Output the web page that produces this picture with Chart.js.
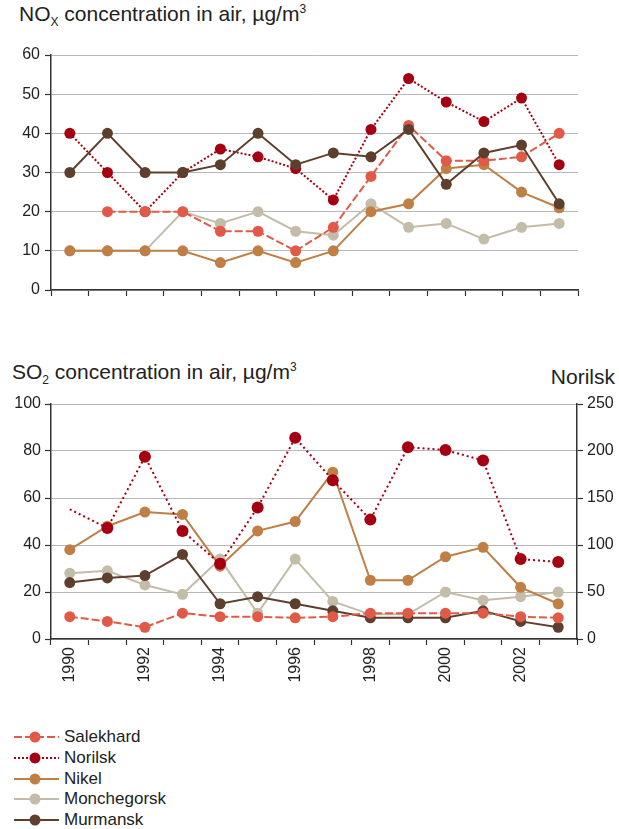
<!DOCTYPE html>
<html>
<head>
<meta charset="utf-8">
<script src="https://cdn.jsdelivr.net/npm/chart.js@4/dist/chart.umd.min.js"></script>
<style>
  body { margin: 0; background: #fff; font-family: "Liberation Sans", Arial, sans-serif; color: #222; }
  #wrap { position: relative; width: 619px; height: 829px; }
  .title { position: absolute; font-size: 21px; white-space: nowrap; }
  .title sub, .title sup { font-size: 12px; }
  #c1 { position: absolute; left: 0; top: 40px; }
  #c2 { position: absolute; left: 0; top: 390px; }
  #legend { position: absolute; left: 14px; top: 727px; font-size: 17px; }
  #legend .row { display: flex; align-items: center; height: 20.7px; }
  #legend svg { margin-right: 5px; }
</style>
</head>
<body>
<div id="wrap">
  <div class="title" style="left:19px; top:2px;">NO<sub>X</sub> concentration in air, µg/m<sup>3</sup></div>
  <canvas id="c1" width="619" height="270"></canvas>
  <div class="title" style="left:12px; top:360px;">SO<sub>2</sub> concentration in air, µg/m<sup>3</sup></div>
  <div class="title" style="right:4px; top:365px;">Norilsk</div>
  <canvas id="c2" width="619" height="320"></canvas>
  <div id="legend"></div>
</div>
<script>
const years = ['1990','1991','1992','1993','1994','1995','1996','1997','1998','1999','2000','2001','2002','2003'];

// NOx, µg/m3
const noxSalekhard   = [null, 20, 20, 20, 15, 15, 10, 16, 29, 42, 33, 33, 34, 40];
const noxNorilsk     = [40, 30, 20, 30, 36, 34, 31, 23, 41, 54, 48, 43, 49, 32];
const noxNikel       = [10, 10, 10, 10, 7, 10, 7, 10, 20, 22, 31, 32, 25, 21];
const noxMonchegorsk = [10, 10, 10, 20, 17, 20, 15, 14, 22, 16, 17, 13, 16, 17];
const noxMurmansk    = [30, 40, 30, 30, 32, 40, 32, 35, 34, 41, 27, 35, 37, 22];

// SO2, µg/m3 (Norilsk on right axis)
const so2Salekhard   = [9.5, 7.5, 5, 11, 9.5, 9.5, 9, 9.5, 11, 11, 11, 11, 9.5, 9];
const so2Norilsk     = [138, 118, 194, 115, 80, 140, 214, 169, 127, 204, 201, 190, 85, 82];
const so2Nikel       = [38, 48, 54, 53, 31, 46, 50, 71, 25, 25, 35, 39, 22, 15];
const so2Monchegorsk = [28, 29, 23, 19, 34, 11, 34, 16, 10.5, 10.5, 20, 16.5, 18, 20];
const so2Murmansk    = [24, 26, 27, 36, 15, 18, 15, 12, 9, 9, 9, 12, 7.5, 5];

const noxTicks = [0, 10, 20, 30, 40, 50, 60];
const so2Ticks = [0, 20, 40, 60, 80, 100];
const norilskTicks = [0, 50, 100, 150, 200, 250];

const names = ['Salekhard', 'Norilsk', 'Nikel', 'Monchegorsk', 'Murmansk'];
const colors = ['#e05a47', '#a50011', '#bf7f45', '#c3bca9', '#5e3f2d'];
const dashes = [[8, 3], [2, 2], [], [], []];

Chart.defaults.font.family = '"Liberation Sans", Arial, sans-serif';
Chart.defaults.font.size = 16;
Chart.defaults.color = '#222';

function ds(i, data, extra) {
  return Object.assign({
    label: names[i],
    data: data,
    borderColor: colors[i],
    backgroundColor: colors[i],
    borderWidth: 2,
    borderDash: dashes[i],
    pointRadius: 5.5,
    pointHoverRadius: 5.5,
    pointBorderWidth: 0,
    tension: 0,
    spanGaps: false
  }, extra || {});
}

const axisColor = '#333';
const gridColor = '#b8b8b8';

// top chart
new Chart(document.getElementById('c1'), {
  type: 'line',
  data: {
    labels: years,
    datasets: [
      ds(4, noxMurmansk, { order: 0 }),
      ds(0, noxSalekhard, { order: 1 }),
      ds(1, noxNorilsk, { order: 2 }),
      ds(2, noxNikel, { order: 3 }),
      ds(3, noxMonchegorsk, { order: 4 })
    ]
  },
  options: {
    responsive: false,
    animation: false,
    layout: { padding: { top: 15, right: 41, left: 0, bottom: 0 } },
    plugins: { legend: { display: false }, tooltip: { enabled: false } },
    scales: {
      x: {
        offset: true,
        grid: { offset: true, drawOnChartArea: false, tickLength: 6, tickColor: axisColor, tickWidth: 1.2 },
        border: { color: axisColor, width: 1.5 },
        ticks: { display: false },
        afterFit: s => { s.height = 20; }
      },
      y: {
        min: 0, max: 60,
        afterBuildTicks: s => { s.ticks = noxTicks.map(v => ({ value: v })); },
        grid: { color: gridColor, tickLength: 6, tickColor: axisColor, tickWidth: 1.2 },
        border: { color: axisColor, width: 1.5 },
        ticks: { padding: 5 },
        afterFit: s => { s.width = 51; }
      }
    }
  }
});

// bottom chart
new Chart(document.getElementById('c2'), {
  type: 'line',
  data: {
    labels: years,
    datasets: [
      ds(0, so2Salekhard, { yAxisID: 'y' }),
      ds(1, so2Norilsk, { yAxisID: 'y2', borderDash: [2, 3], pointRadius: c => c.dataIndex === 0 ? 0 : 6 }),
      ds(2, so2Nikel, { yAxisID: 'y' }),
      ds(4, so2Murmansk, { yAxisID: 'y' }),
      ds(3, so2Monchegorsk, { yAxisID: 'y' })
    ]
  },
  options: {
    responsive: false,
    animation: false,
    layout: { padding: { top: 14, right: 0, left: 0, bottom: 0 } },
    plugins: { legend: { display: false }, tooltip: { enabled: false } },
    scales: {
      x: {
        offset: true,
        grid: { offset: true, drawOnChartArea: false, tickLength: 6, tickColor: axisColor, tickWidth: 1.2 },
        border: { color: axisColor, width: 1.5 },
        ticks: {
          autoSkip: false, minRotation: 90, maxRotation: 90, padding: 2,
          callback: (v, i) => i % 2 === 0 ? years[i] : ''
        },
        afterFit: s => { s.height = 71; }
      },
      y: {
        position: 'left',
        min: 0, max: 100,
        afterBuildTicks: s => { s.ticks = so2Ticks.map(v => ({ value: v })); },
        grid: { color: gridColor, tickLength: 6, tickColor: axisColor, tickWidth: 1.2 },
        border: { color: axisColor, width: 1.5 },
        ticks: { padding: 4 },
        afterFit: s => { s.width = 51; }
      },
      y2: {
        position: 'right',
        min: 0, max: 250,
        afterBuildTicks: s => { s.ticks = norilskTicks.map(v => ({ value: v })); },
        grid: { drawOnChartArea: false, tickLength: 6, tickColor: axisColor, tickWidth: 1.2 },
        border: { color: axisColor, width: 1.5 },
        ticks: { padding: 4 },
        afterFit: s => { s.width = 42; }
      }
    }
  }
});

// legend
const leg = document.getElementById('legend');
names.forEach((n, i) => {
  const row = document.createElement('div');
  row.className = 'row';
  const d = dashes[i].length ? dashes[i].join(',') : 'none';
  row.innerHTML = '<svg width="45" height="14"><line x1="0" y1="7" x2="45" y2="7" stroke="' + colors[i] +
    '" stroke-width="2" stroke-dasharray="' + d + '"/><circle cx="21" cy="7" r="5.5" fill="' + colors[i] +
    '"/></svg><span>' + n + '</span>';
  leg.appendChild(row);
});
</script>
</body>
</html>
